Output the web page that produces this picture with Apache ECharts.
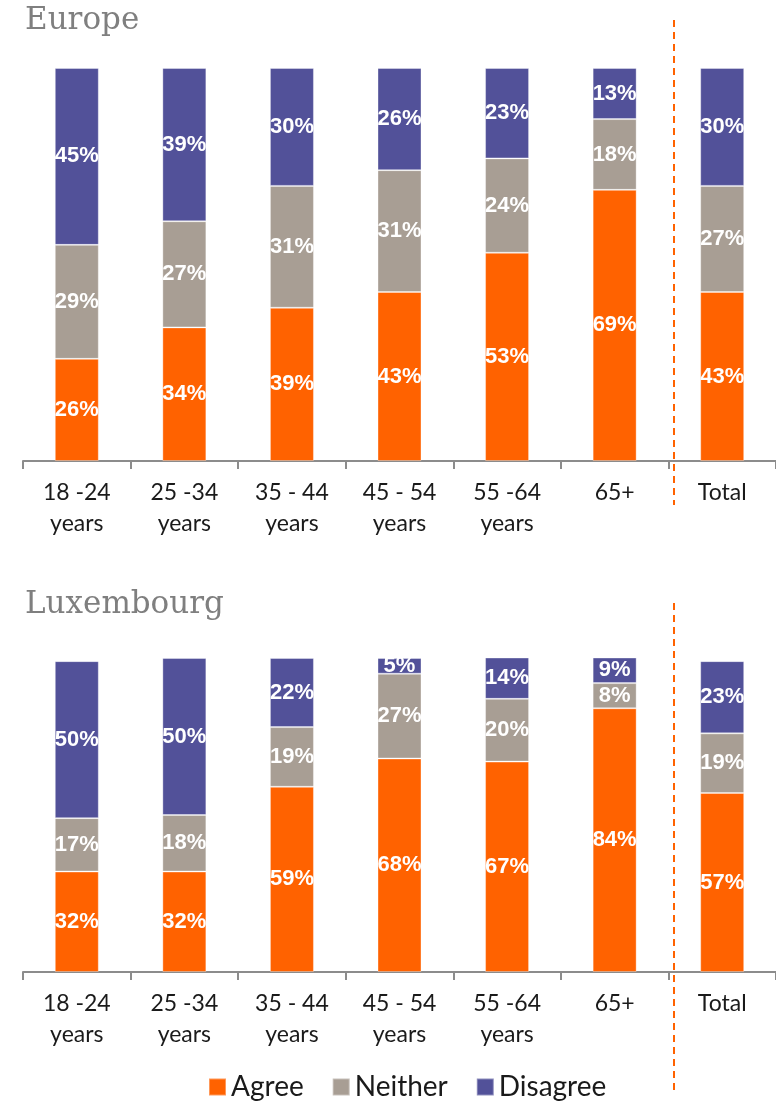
<!DOCTYPE html>
<html>
<head>
<meta charset="utf-8">
<script src="https://cdn.jsdelivr.net/npm/echarts@6/dist/echarts.min.js"></script>
<style>
  html, body { margin: 0; padding: 0; background: #fff; }
  #chart { width: 776px; height: 1107px; }
</style>
</head>
<body>
<div id="chart"></div>
<script>
// categories shared by both panels
const ageGroups = ['18 -24\nyears', '25 -34\nyears', '35 - 44\nyears', '45 - 54\nyears', '55 -64\nyears', '65+', 'Total'];

// Europe (%)
const euAgree    = [26, 34, 39, 43, 53, 69, 43];
const euNeither  = [29, 27, 31, 31, 24, 18, 27];
const euDisagree = [45, 39, 30, 26, 23, 13, 30];

// Luxembourg (%)
const luAgree    = [32, 32, 59, 68, 67, 84, 57];
const luNeither  = [17, 18, 19, 27, 20, 8, 19];
const luDisagree = [50, 50, 22, 5, 14, 9, 23];

const colors = { Agree: '#ff6200', Neither: '#a89e94', Disagree: '#525199' };

function barSeries(name, data, idx) {
  return {
    name: name,
    type: 'bar',
    stack: 'p' + idx,
    xAxisIndex: idx,
    yAxisIndex: idx,
    data: data,
    barWidth: 44,
    itemStyle: { color: colors[name], borderColor: 'rgba(255,255,255,0.35)', borderWidth: 1 },
    label: {
      show: true,
      position: 'inside',
      formatter: '{c}%',
      color: '#fff',
      fontFamily: 'Liberation Sans, Arial, sans-serif',
      fontWeight: 'bold',
      fontSize: 22
    }
  };
}

function xAxisFor(idx) {
  return {
    type: 'category',
    gridIndex: idx,
    data: ageGroups,
    axisLine: { show: true, lineStyle: { color: '#8c8c8c', width: 2 } },
    axisTick: { show: true, alignWithLabel: false, interval: 0, length: 8, lineStyle: { color: '#8c8c8c', width: 2 } },
    axisLabel: {
      color: '#1a1a1a',
      fontFamily: 'Lato, Noto Sans, sans-serif',
      fontSize: 23,
      lineHeight: 31,
      margin: 16,
      interval: 0
    }
  };
}

function yAxisFor(idx) {
  return { type: 'value', gridIndex: idx, min: 0, max: 100, show: false, splitLine: { show: false } };
}

const chart = echarts.init(document.getElementById('chart'));
chart.setOption({
  animation: false,
  title: [
    { text: 'Europe', left: 20, top: 0, textStyle: { fontFamily: 'DejaVu Serif, serif', fontSize: 31, fontWeight: 'normal', color: '#7f7f7f' } },
    { text: 'Luxembourg', left: 20, top: 584, textStyle: { fontFamily: 'DejaVu Serif, serif', fontSize: 31, fontWeight: 'normal', color: '#7f7f7f' } }
  ],
  legend: {
    top: 1068,
    left: 203,
    padding: 5,
    itemWidth: 17,
    itemHeight: 17,
    itemGap: 28,
    icon: 'rect',
    textStyle: { fontFamily: 'Lato, Noto Sans, sans-serif', fontSize: 28, color: '#1a1a1a' },
    data: ['Agree', 'Neither', 'Disagree']
  },
  grid: [
    { left: 23, right: 0, top: 68, height: 393 },
    { left: 23, right: 0, top: 658, height: 314 }
  ],
  xAxis: [xAxisFor(0), xAxisFor(1)],
  yAxis: [yAxisFor(0), yAxisFor(1)],
  series: [
    barSeries('Agree', euAgree, 0),
    barSeries('Neither', euNeither, 0),
    barSeries('Disagree', euDisagree, 0),
    barSeries('Agree', luAgree, 1),
    barSeries('Neither', luNeither, 1),
    barSeries('Disagree', luDisagree, 1)
  ],
  graphic: [
    { type: 'line', shape: { x1: 674, y1: 20, x2: 674, y2: 505 }, style: { stroke: '#ff6200', lineWidth: 2, lineDash: [7, 5] } },
    { type: 'line', shape: { x1: 674, y1: 603, x2: 674, y2: 1090 }, style: { stroke: '#ff6200', lineWidth: 2, lineDash: [7, 5] } }
  ]
});
</script>
</body>
</html>
